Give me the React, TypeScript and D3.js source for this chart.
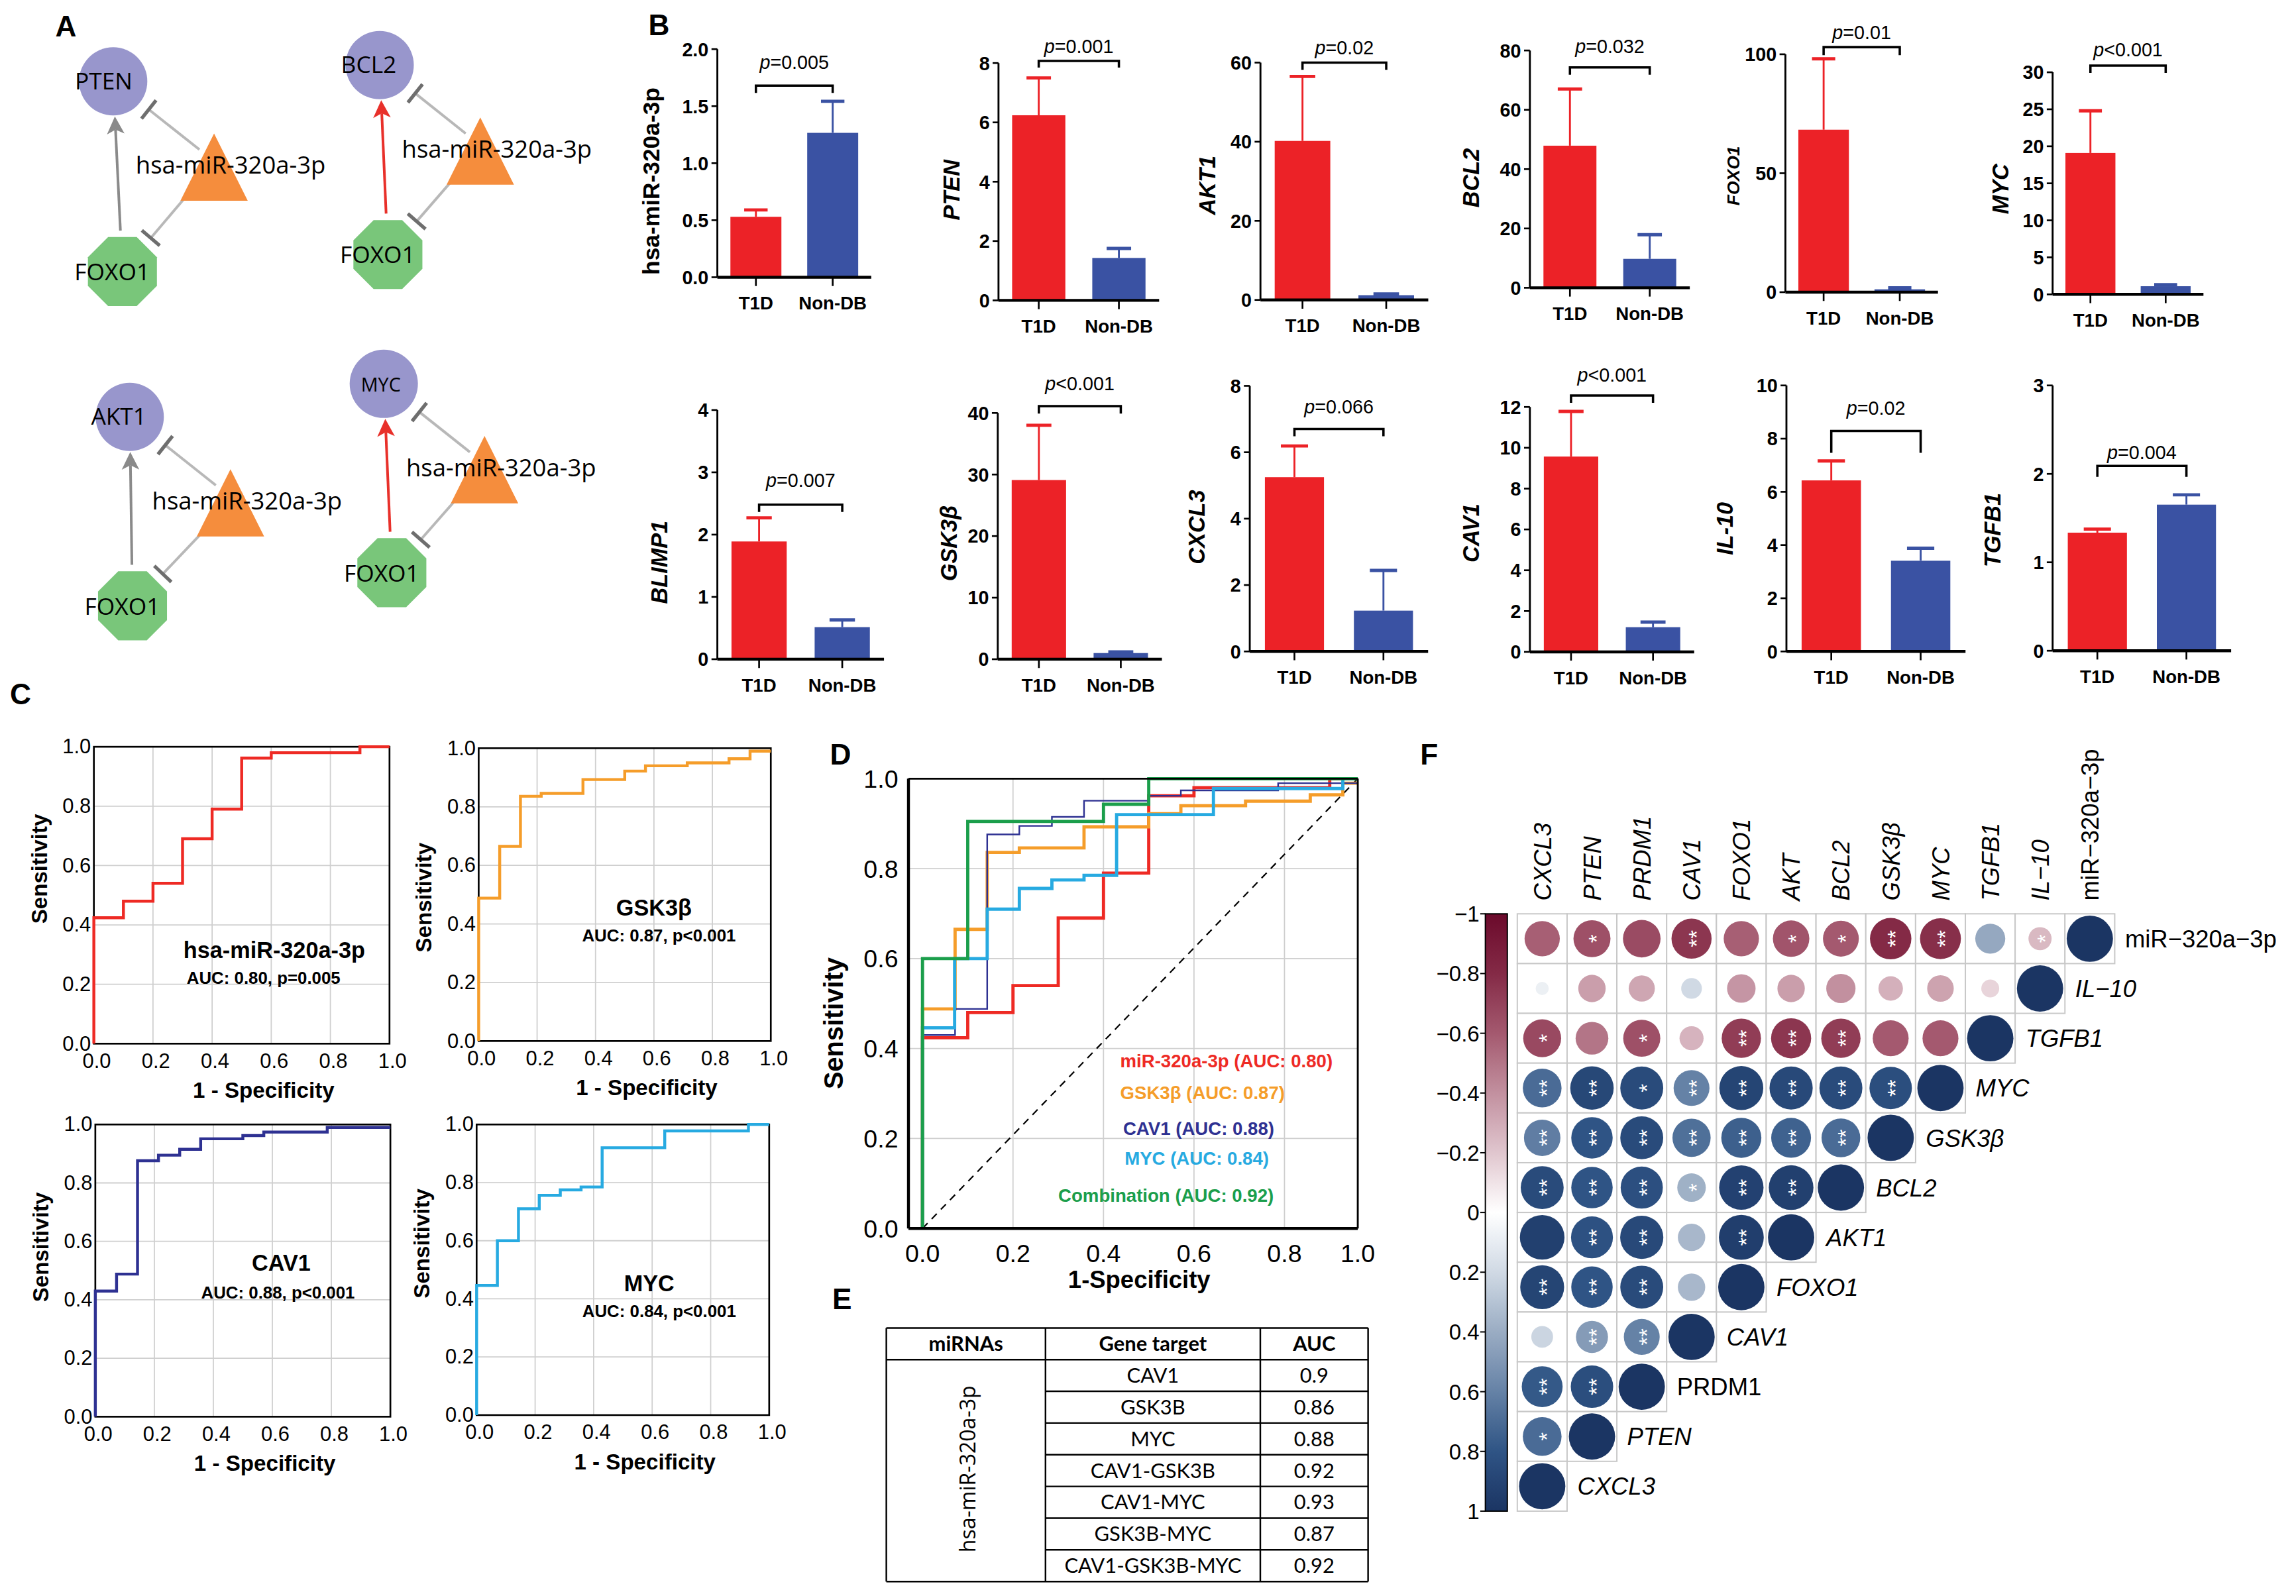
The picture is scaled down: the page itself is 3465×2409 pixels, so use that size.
import React, { useEffect, useRef } from 'react';
import * as d3 from 'd3';

// ---------- Panel A: regulatory networks ----------
const hubGenes = ['PTEN', 'BCL2', 'AKT1', 'MYC'];
const hubLinkColors = ['#8a8a8a', '#e8302a', '#8a8a8a', '#e8302a'];
const mirLabel = 'hsa-miR-320a-3p';
const tfLabel = 'FOXO1';

// ---------- Panel B: expression bars ----------
const groups = ['T1D', 'Non-DB'];
const barGenes = ['hsa-miR-320a-3p', 'PTEN', 'AKT1', 'BCL2', 'FOXO1', 'MYC', 'BLIMP1', 'GSK3β', 'CXCL3', 'CAV1', 'IL-10', 'TGFB1'];
const t1dMean = [0.53, 6.24, 40.2, 47.9, 68.3, 19.1, 1.89, 29.1, 5.25, 9.57, 6.43, 1.335];
const t1dSem = [0.06, 1.26, 16.3, 19.1, 29.8, 5.7, 0.38, 8.9, 0.94, 2.21, 0.73, 0.04];
const nonMean = [1.266, 1.43, 1.2, 9.75, 1.2, 1.1, 0.515, 1.0, 1.23, 1.21, 3.41, 1.652];
const nonSem = [0.277, 0.32, 0.3, 8.15, 0.6, 0.2, 0.115, 0.2, 1.21, 0.25, 0.47, 0.111];
const yMax = [2, 8, 60, 80, 100, 30, 4, 40, 8, 12, 10, 3];
const yStep = [0.5, 2, 20, 20, 50, 5, 1, 10, 2, 2, 2, 1];
const pValues = ['p=0.005', 'p=0.001', 'p=0.02', 'p=0.032', 'p=0.01', 'p<0.001', 'p=0.007', 'p<0.001', 'p=0.066', 'p<0.001', 'p=0.02', 'p=0.004'];
const bracketAt = [1.68, 8.07, 60, 74.3, 103, 30.9, 2.48, 41.1, 6.7, 12.56, 8.29, 2.09];

// ---------- Panel C / D: ROC curves ----------
const rocNames = ['hsa-miR-320a-3p', 'GSK3β', 'CAV1', 'MYC'];
const rocAuc = ['AUC: 0.80, p=0.005', 'AUC: 0.87, p<0.001', 'AUC: 0.88, p<0.001', 'AUC: 0.84, p<0.001'];
const mirFpr = [0, 0, 0.1, 0.2, 0.3, 0.4, 0.5, 0.6, 0.9, 1.0];
const mirTpr = [0, 0.424, 0.48, 0.54, 0.69, 0.79, 0.962, 0.98, 1.0, 1.0];
const gskFpr = [0, 0, 0.072, 0.143, 0.214, 0.357, 0.5, 0.571, 0.714, 0.857, 0.929, 1.0];
const gskTpr = [0, 0.488, 0.665, 0.836, 0.846, 0.893, 0.922, 0.94, 0.95, 0.964, 0.99, 0.99];
const cavFpr = [0, 0, 0.072, 0.143, 0.214, 0.286, 0.357, 0.5, 0.571, 0.786, 1.0];
const cavTpr = [0, 0.43, 0.488, 0.876, 0.895, 0.915, 0.951, 0.962, 0.974, 0.99, 0.99];
const mycFpr = [0, 0, 0.071, 0.143, 0.214, 0.286, 0.357, 0.429, 0.643, 0.929, 1.0];
const mycTpr = [0, 0.446, 0.6, 0.71, 0.756, 0.775, 0.785, 0.92, 0.978, 1.0, 1.0];
const comboFpr = [0, 0, 0.1, 0.4, 0.5, 1.0];
const comboTpr = [0, 0.6, 0.905, 0.943, 1.0, 1.0];
const rocColors = ['#ee2a24', '#f59d2a', '#2e3192', '#27aae1'];
const comboColor = '#1b9e4b';
const dLegend = ['miR-320a-3p (AUC: 0.80)', 'GSK3β (AUC: 0.87)', 'CAV1 (AUC: 0.88)', 'MYC (AUC: 0.84)', 'Combination (AUC: 0.92)'];

// ---------- Panel E: table ----------
const tableHeader = ['miRNAs', 'Gene target', 'AUC'];
const tableMirna = 'hsa-miR-320a-3p';
const tableTargets = ['CAV1', 'GSK3B', 'MYC', 'CAV1-GSK3B', 'CAV1-MYC', 'GSK3B-MYC', 'CAV1-GSK3B-MYC'];
const tableAuc = ['0.9', '0.86', '0.88', '0.92', '0.93', '0.87', '0.92'];

// ---------- Panel F: correlation matrix ----------
const corrRowNames = ['miR−320a−3p', 'IL−10', 'TGFB1', 'MYC', 'GSK3β', 'BCL2', 'AKT1', 'FOXO1', 'CAV1', 'PRDM1', 'PTEN', 'CXCL3'];
const corrColNames = ['CXCL3', 'PTEN', 'PRDM1', 'CAV1', 'FOXO1', 'AKT', 'BCL2', 'GSK3β', 'MYC', 'TGFB1', 'IL−10', 'miR−320a−3p'];
const corrRowItalic = [false, true, true, true, true, true, true, true, true, false, true, true];
const corrColItalic = [true, true, true, true, true, true, true, true, true, true, true, false];
const corrValues = [
  [-0.58, -0.64, -0.66, -0.75, -0.58, -0.62, -0.6, -0.8, -0.78, 0.42, -0.25, 1],
  [0.08, -0.35, -0.32, 0.2, -0.38, -0.35, -0.4, -0.28, -0.33, -0.15, 1],
  [-0.67, -0.5, -0.64, -0.27, -0.72, -0.75, -0.72, -0.6, -0.6, 1],
  [0.7, 0.88, 0.86, 0.6, 0.9, 0.87, 0.86, 0.84, 1],
  [0.62, 0.8, 0.86, 0.68, 0.75, 0.74, 0.7, 1],
  [0.86, 0.8, 0.83, 0.38, 0.92, 0.93, 1],
  [0.93, 0.82, 0.87, 0.35, 0.94, 1],
  [0.9, 0.8, 0.86, 0.35, 1],
  [0.22, 0.48, 0.6, 1],
  [0.78, 0.84, 1],
  [0.7, 1],
  [1],
];
const corrStars = [
  ['', '*', '', '**', '', '*', '*', '**', '**', '', '*', ''],
  ['', '', '', '', '', '', '', '', '', '', ''],
  ['*', '', '*', '', '**', '**', '**', '', '', ''],
  ['**', '**', '*', '**', '**', '**', '**', '**', ''],
  ['**', '**', '**', '**', '**', '**', '**', ''],
  ['**', '**', '**', '*', '**', '**', ''],
  ['', '**', '**', '', '**', ''],
  ['**', '**', '**', '', ''],
  ['', '**', '**', ''],
  ['**', '**', ''],
  ['*', ''],
  [''],
];
const colorbarTicks = [-1, -0.8, -0.6, -0.4, -0.2, 0, 0.2, 0.4, 0.6, 0.8, 1];

// ---------- layout (display units, viewBox 1568 x 1090) ----------
const ARIAL = "'Liberation Sans', Arial, Helvetica, sans-serif";
const SANS = "'Open Sans', 'Liberation Sans', sans-serif";
const TABLEFONT = "Lato, 'Open Sans', sans-serif";

const panelLetters = [
  { t: 'A', x: 45, y: 25 }, { t: 'B', x: 450, y: 24 }, { t: 'C', x: 14, y: 481 },
  { t: 'D', x: 574, y: 522 }, { t: 'E', x: 575, y: 894 }, { t: 'F', x: 976, y: 522 },
];

const netLayout = [
  { hub: [77.3, 55.5], tri: [146.2, 91.1], tf: [83.6, 185.4], hubDx: -6.5, hubFont: 16 },
  { hub: [259.3, 44.4], tri: [328.0, 80.1], tf: [264.9, 173.8], hubDx: -7.5, hubFont: 16 },
  { hub: [88.6, 284.7], tri: [157.4, 320.4], tf: [90.5, 413.7], hubDx: -7.5, hubFont: 16 },
  { hub: [262.1, 262.1], tri: [330.9, 297.7], tf: [267.6, 391.1], hubDx: -2, hubFont: 13 },
];

const bLayout = [
  { x: 489.9, y0: 189.3, yTop: 33.5, xEnd: 595, labX: 444.4, labY: 123.7, leg: 5, pGap: 11.5, fs: 16 },
  { x: 681.9, y0: 205.1, yTop: 43, xEnd: 791.6, labX: 649.8, labY: 129.7, leg: 4.5, pGap: 5.5, fs: 15.5 },
  { x: 860.8, y0: 204.8, yTop: 42.7, xEnd: 975.4, labX: 824.4, labY: 126.5, leg: 5, pGap: 5.5, fs: 15.5 },
  { x: 1044.8, y0: 196.5, yTop: 34.4, xEnd: 1154, labX: 1004.5, labY: 121.4, leg: 5, pGap: 10, fs: 15.5 },
  { x: 1219.3, y0: 199.5, yTop: 37, xEnd: 1323.5, labX: 1183.5, labY: 120, leg: 5.5, pGap: 5.5, fs: 12 },
  { x: 1401.8, y0: 201, yTop: 49.3, xEnd: 1504.8, labX: 1366, labY: 129, leg: 5, pGap: 6.5, fs: 15.5 },
  { x: 489.9, y0: 450.2, yTop: 280, xEnd: 603.7, labX: 449.9, labY: 384, leg: 5, pGap: 12, fs: 15.5 },
  { x: 681.4, y0: 450.2, yTop: 282, xEnd: 793.5, labX: 648, labY: 371, leg: 5, pGap: 11, fs: 15.5 },
  { x: 853.5, y0: 444.9, yTop: 263.5, xEnd: 975.3, labX: 817, labY: 360, leg: 5, pGap: 10.5, fs: 15.5 },
  { x: 1044.8, y0: 445.2, yTop: 277.9, xEnd: 1157, labX: 1004.5, labY: 364, leg: 5, pGap: 9.5, fs: 15.5 },
  { x: 1220, y0: 444.9, yTop: 263.2, xEnd: 1342.3, labX: 1177.9, labY: 361, leg: 15, pGap: 11, fs: 15.5 },
  { x: 1401.8, y0: 444.4, yTop: 263.2, xEnd: 1523.7, labX: 1360.5, labY: 362, leg: 7.5, pGap: 4.5, fs: 15.5 },
];
const barColors = ['#ec2227', '#3a52a3'];

const cLayout = [
  { x0: 64.1, x1: 266, yT: 510, yB: 712.8, labDy: -18, title: [0.61, 0.315], auc: [0.574, 0.222] },
  { x0: 326.9, x1: 526.4, yT: 511, yB: 711, labDy: 2, title: [0.6, 0.457], auc: [0.617, 0.362] },
  { x0: 65.1, x1: 266.6, yT: 768, yB: 967.6, labDy: -16, title: [0.63, 0.527], auc: [0.619, 0.426] },
  { x0: 325.5, x1: 525.3, yT: 768, yB: 966.5, labDy: -18, title: [0.59, 0.455], auc: [0.624, 0.358] },
];

const dBox = { x0: 630, unit: 309, yT: 531.8, yB: 839, edge: [-0.031, 0.962] };
const dXTicks = [0, 0.2, 0.4, 0.6, 0.8, 0.962];
const dLegendPos = [[765, 728.8], [765, 750.8], [767, 775], [768, 795.3], [722.7, 820.7]];

const tableCols = [605.3, 714, 860.7, 934.3];
const tableTop = 907;
const tableHeadBottom = 928.6;
const tableBottom = 1080.2;

const fLeft = 1036.2;
const fTop = 624.1;
const fCell = 34;
const fBar = { x: 1014.4, w: 15 };

const corrColor = d3.scaleLinear<string>()
  .domain([-1, -0.8, -0.6, -0.4, -0.2, 0, 0.2, 0.4, 0.6, 0.8, 1])
  .range(['#6b0a2b', '#842a46', '#a4596f', '#c2909f', '#e0c6ce', '#ffffff', '#d0d9e4', '#9aacc3', '#6582a6', '#2f5485', '#1b3563']);

type Pt = [number, number];
const unitVec = (a: Pt, b: Pt): Pt => {
  const dx = b[0] - a[0], dy = b[1] - a[1];
  const l = Math.hypot(dx, dy);
  return [dx / l, dy / l];
};
const toward = (from: Pt, to: Pt, d: number): Pt => {
  const u = unitVec(from, to);
  return [from[0] + u[0] * d, from[1] + u[1] * d];
};

const App: React.FC = () => {
  const svgRef = useRef<SVGSVGElement>(null);

  useEffect(() => {
    const svg = d3.select(svgRef.current);
    svg.selectAll('*').remove();

    svg.append('rect').attr('width', 1568).attr('height', 1090).attr('fill', '#fff');

    // Panel letters
    panelLetters.forEach(p => {
      svg.append('text')
        .attr('x', p.x).attr('y', p.y)
        .attr('text-anchor', 'middle')
        .style('font-family', ARIAL).style('font-weight', 'bold').style('font-size', '20px')
        .text(p.t);
    });

    // ================= Panel A =================
    const gA = svg.append('g');
    netLayout.forEach((L, i) => {
      const hub = L.hub as Pt, tri = L.tri as Pt, tf = L.tf as Pt;
      const triW = 46, triH = 46;

      const inhibit = (s: Pt, e: Pt) => {
        gA.append('line')
          .attr('x1', s[0]).attr('y1', s[1]).attr('x2', e[0]).attr('y2', e[1])
          .attr('stroke', '#b8b8b8').attr('stroke-width', 1.8);
        const u = unitVec(s, e);
        const p: Pt = [-u[1], u[0]];
        gA.append('line')
          .attr('x1', e[0] + p[0] * 8).attr('y1', e[1] + p[1] * 8)
          .attr('x2', e[0] - p[0] * 8).attr('y2', e[1] - p[1] * 8)
          .attr('stroke', '#6e6e6e').attr('stroke-width', 2.4);
      };

      const s1: Pt = [tri[0] - 10, tri[1] + 11];
      inhibit(s1, toward(hub, s1, 31));
      const s2: Pt = [tri[0] - triW / 2 + 3, tri[1] + triH - 2];
      inhibit(s2, toward(tf, s2, 30));

      // activation arrow FOXO1 -> hub
      const aS = toward(tf, hub, 28);
      const aE = toward(hub, tf, 24);
      const u = unitVec(aS, aE);
      const p: Pt = [-u[1], u[0]];
      const base: Pt = [aE[0] - u[0] * 12, aE[1] - u[1] * 12];
      gA.append('line')
        .attr('x1', aS[0]).attr('y1', aS[1]).attr('x2', base[0] + u[0] * 3).attr('y2', base[1] + u[1] * 3)
        .attr('stroke', hubLinkColors[i]).attr('stroke-width', 1.8);
      gA.append('path')
        .attr('d', `M${aE[0]},${aE[1]} L${base[0] + p[0] * 6},${base[1] + p[1] * 6} L${aE[0] - u[0] * 9},${aE[1] - u[1] * 9} L${base[0] - p[0] * 6},${base[1] - p[1] * 6} Z`)
        .attr('fill', hubLinkColors[i]);

      // nodes
      gA.append('circle').attr('cx', hub[0]).attr('cy', hub[1]).attr('r', 23.3).attr('fill', '#9896cc');
      gA.append('path')
        .attr('d', `M${tri[0]},${tri[1]} L${tri[0] - triW / 2},${tri[1] + triH} L${tri[0] + triW / 2},${tri[1] + triH} Z`)
        .attr('fill', '#f58d3d');
      const oct = d3.range(8).map(k => {
        const a = (Math.PI / 8) + k * Math.PI / 4;
        return [tf[0] + 25.5 * Math.cos(a), tf[1] + 25.5 * Math.sin(a)];
      });
      gA.append('path').attr('d', 'M' + oct.map(q => q.join(',')).join('L') + 'Z').attr('fill', '#79c67a');

      // labels
      gA.append('text')
        .attr('x', hub[0] + L.hubDx).attr('y', hub[1] + 5.5)
        .attr('text-anchor', 'middle')
        .style('font-family', SANS).style('font-size', `${L.hubFont}px`)
        .text(hubGenes[i]);
      gA.append('text')
        .attr('x', tf[0] - 7).attr('y', tf[1] + 6)
        .attr('text-anchor', 'middle')
        .style('font-family', SANS).style('font-size', '16px')
        .text(tfLabel);
      gA.append('text')
        .attr('x', tri[0] - 53.5).attr('y', tri[1] + 27.5)
        .style('font-family', SANS).style('font-size', '16.5px')
        .text(mirLabel);
    });

    // ================= Panel B =================
    const gB = svg.append('g');
    barGenes.forEach((gene, i) => {
      const L = bLayout[i];
      const g = gB.append('g');
      const x = d3.scaleBand<string>().domain(groups).range([L.x, L.xEnd]).paddingInner(0.336).paddingOuter(0.17);
      const y = d3.scaleLinear().domain([0, yMax[i]]).range([L.y0, L.yTop]);
      const means = [t1dMean[i], nonMean[i]];
      const sems = [t1dSem[i], nonSem[i]];
      const bw = x.bandwidth();

      groups.forEach((grp, k) => {
        const bx = x(grp) as number;
        const cx = bx + bw / 2;
        const c = barColors[k];
        g.append('line')
          .attr('x1', cx).attr('x2', cx).attr('y1', y(means[k])).attr('y2', y(means[k] + sems[k]))
          .attr('stroke', c).attr('stroke-width', 1.3);
        g.append('line')
          .attr('x1', cx - bw * 0.23).attr('x2', cx + bw * 0.23)
          .attr('y1', y(means[k] + sems[k])).attr('y2', y(means[k] + sems[k]))
          .attr('stroke', c).attr('stroke-width', 2.2);
        g.append('rect')
          .attr('x', bx).attr('y', y(means[k]))
          .attr('width', bw).attr('height', L.y0 - y(means[k]))
          .attr('fill', c);
      });

      // y axis
      g.append('line').attr('x1', L.x).attr('x2', L.x).attr('y1', L.y0).attr('y2', L.yTop)
        .attr('stroke', '#000').attr('stroke-width', 1.3);
      const ticks = d3.range(0, yMax[i] + yStep[i] / 2, yStep[i]);
      const fmt = yStep[i] < 1 ? d3.format('.1f') : d3.format('d');
      ticks.forEach(t => {
        g.append('line').attr('x1', L.x - 4).attr('x2', L.x).attr('y1', y(t)).attr('y2', y(t))
          .attr('stroke', '#000').attr('stroke-width', 1.2);
        g.append('text')
          .attr('x', L.x - 6).attr('y', y(t)).attr('dy', '0.36em')
          .attr('text-anchor', 'end')
          .style('font-family', ARIAL).style('font-weight', 'bold').style('font-size', '13px')
          .text(fmt(t));
      });

      // x axis
      g.append('line').attr('x1', L.x).attr('x2', L.xEnd).attr('y1', L.y0).attr('y2', L.y0)
        .attr('stroke', '#000').attr('stroke-width', 2);
      groups.forEach(grp => {
        const cx = (x(grp) as number) + bw / 2;
        g.append('line').attr('x1', cx).attr('x2', cx).attr('y1', L.y0).attr('y2', L.y0 + 6)
          .attr('stroke', '#000').attr('stroke-width', 1.2);
        g.append('text')
          .attr('x', cx).attr('y', L.y0 + 22)
          .attr('text-anchor', 'middle')
          .style('font-family', ARIAL).style('font-weight', 'bold').style('font-size', '12.5px')
          .text(grp);
      });

      // y label
      g.append('text')
        .attr('transform', `translate(${L.labX + L.fs * 0.36},${L.labY}) rotate(-90)`)
        .attr('text-anchor', 'middle')
        .style('font-family', ARIAL).style('font-weight', 'bold')
        .style('font-style', i === 0 ? 'normal' : 'italic')
        .style('font-size', `${L.fs}px`)
        .text(gene);

      // significance bracket
      const c1 = (x(groups[0]) as number) + bw / 2;
      const c2 = (x(groups[1]) as number) + bw / 2;
      const by = y(bracketAt[i]);
      g.append('path')
        .attr('d', `M${c1},${by + L.leg} L${c1},${by} L${c2},${by} L${c2},${by + L.leg}`)
        .attr('fill', 'none').attr('stroke', '#000').attr('stroke-width', 1.6);
      const pt = g.append('text')
        .attr('x', (c1 + c2) / 2).attr('y', by - L.pGap)
        .attr('text-anchor', 'middle')
        .style('font-family', ARIAL).style('font-size', '13px');
      pt.append('tspan').style('font-style', 'italic').text(pValues[i].slice(0, 1));
      pt.append('tspan').text(pValues[i].slice(1));
    });

    // ================= Panel C =================
    const gC = svg.append('g');
    const rocSets: [number[], number[]][] = [[mirFpr, mirTpr], [gskFpr, gskTpr], [cavFpr, cavTpr], [mycFpr, mycTpr]];
    cLayout.forEach((L, i) => {
      const g = gC.append('g');
      const x = d3.scaleLinear().domain([0, 1]).range([L.x0, L.x1]);
      const y = d3.scaleLinear().domain([0, 1]).range([L.yB, L.yT]);
      const ticks = d3.range(0, 1.01, 0.2);
      ticks.slice(1, -1).forEach(t => {
        g.append('line').attr('x1', x(t)).attr('x2', x(t)).attr('y1', L.yT).attr('y2', L.yB)
          .attr('stroke', '#cfcfcf').attr('stroke-width', 0.8);
        g.append('line').attr('x1', L.x0).attr('x2', L.x1).attr('y1', y(t)).attr('y2', y(t))
          .attr('stroke', '#cfcfcf').attr('stroke-width', 0.8);
      });
      g.append('rect').attr('x', L.x0).attr('y', L.yT).attr('width', L.x1 - L.x0).attr('height', L.yB - L.yT)
        .attr('fill', 'none').attr('stroke', '#000').attr('stroke-width', 1.2);
      const pts: Pt[] = rocSets[i][0].map((f, k) => [f, rocSets[i][1][k]]);
      g.append('path')
        .attr('d', d3.line<Pt>().x(d => x(d[0])).y(d => y(d[1])).curve(d3.curveStepAfter)(pts) as string)
        .attr('fill', 'none').attr('stroke', rocColors[i]).attr('stroke-width', 2);

      ticks.forEach(t => {
        g.append('text')
          .attr('x', x(t) + 2).attr('y', L.yB + 16.5)
          .attr('text-anchor', 'middle')
          .style('font-family', ARIAL).style('font-size', '14px')
          .text(d3.format('.1f')(t));
        g.append('text')
          .attr('x', L.x0 - 2).attr('y', y(t)).attr('dy', '0.33em')
          .attr('text-anchor', 'end')
          .style('font-family', ARIAL).style('font-size', '14px')
          .text(d3.format('.1f')(t));
      });
      g.append('text')
        .attr('transform', `translate(${L.x0 - 37.5 + 5.4},${(L.yT + L.yB) / 2 + L.labDy}) rotate(-90)`)
        .attr('text-anchor', 'middle')
        .style('font-family', ARIAL).style('font-weight', 'bold').style('font-size', '15px')
        .text('Sensitivity');
      g.append('text')
        .attr('x', (L.x0 + L.x1) / 2 + 15).attr('y', L.yB + 37)
        .attr('text-anchor', 'middle')
        .style('font-family', ARIAL).style('font-weight', 'bold').style('font-size', '15px')
        .text('1 - Specificity');
      g.append('text')
        .attr('x', x(L.title[0])).attr('y', y(L.title[1])).attr('dy', '0.36em')
        .attr('text-anchor', 'middle')
        .style('font-family', ARIAL).style('font-weight', 'bold').style('font-size', '15.5px')
        .text(rocNames[i]);
      g.append('text')
        .attr('x', x(L.auc[0])).attr('y', y(L.auc[1])).attr('dy', '0.36em')
        .attr('text-anchor', 'middle')
        .style('font-family', ARIAL).style('font-weight', 'bold').style('font-size', '11.7px')
        .text(rocAuc[i]);
    });

    // ================= Panel D =================
    const gD = svg.append('g');
    const dx = d3.scaleLinear().domain([0, 1]).range([dBox.x0, dBox.x0 + dBox.unit]);
    const dy = d3.scaleLinear().domain([0, 1]).range([dBox.yB, dBox.yT]);
    const dLeft = dx(dBox.edge[0]);
    const dRight = dx(dBox.edge[1]);
    [0.2, 0.4, 0.6, 0.8].forEach(t => {
      gD.append('line').attr('x1', dx(t)).attr('x2', dx(t)).attr('y1', dBox.yT).attr('y2', dBox.yB)
        .attr('stroke', '#cfcfcf').attr('stroke-width', 0.8);
      gD.append('line').attr('x1', dLeft).attr('x2', dRight).attr('y1', dy(t)).attr('y2', dy(t))
        .attr('stroke', '#cfcfcf').attr('stroke-width', 0.8);
    });
    gD.append('line').attr('x1', dx(0)).attr('y1', dy(0)).attr('x2', dRight).attr('y2', dy(1))
      .attr('stroke', '#000').attr('stroke-width', 1).attr('stroke-dasharray', '5,4');
    svg.append('defs').append('clipPath').attr('id', 'dclip')
      .append('rect').attr('x', dLeft).attr('y', dBox.yT - 3).attr('width', dRight - dLeft).attr('height', dBox.yB - dBox.yT + 6);
    const gDc = gD.append('g').attr('clip-path', 'url(#dclip)');
    const dLine = d3.line<Pt>().x(d => dx(d[0])).y(d => dy(d[1])).curve(d3.curveStepAfter);
    rocSets.forEach((set, i) => {
      const pts: Pt[] = set[0].map((f, k) => [f, set[1][k]]);
      gDc.append('path').attr('d', dLine(pts) as string)
        .attr('fill', 'none').attr('stroke', rocColors[i]).attr('stroke-width', i === 2 ? 1.1 : 2.2);
    });
    const comboPts: Pt[] = comboFpr.map((f, k) => [f, comboTpr[k]]);
    gDc.append('path').attr('d', dLine(comboPts) as string)
      .attr('fill', 'none').attr('stroke', comboColor).attr('stroke-width', 2.2);
    // box
    gD.append('line').attr('x1', dLeft).attr('x2', dRight).attr('y1', dBox.yT).attr('y2', dBox.yT).attr('stroke', '#000').attr('stroke-width', 1.3);
    gD.append('line').attr('x1', dRight).attr('x2', dRight).attr('y1', dBox.yT).attr('y2', dBox.yB).attr('stroke', '#000').attr('stroke-width', 1.3);
    gD.append('line').attr('x1', dLeft).attr('x2', dLeft).attr('y1', dBox.yT).attr('y2', dBox.yB).attr('stroke', '#000').attr('stroke-width', 2);
    gD.append('line').attr('x1', dLeft).attr('x2', dRight).attr('y1', dBox.yB).attr('y2', dBox.yB).attr('stroke', '#000').attr('stroke-width', 2);
    dXTicks.forEach((t, k) => {
      gD.append('text').attr('x', dx(t)).attr('y', dBox.yB + 23)
        .attr('text-anchor', 'middle')
        .style('font-family', ARIAL).style('font-size', '17px')
        .text(d3.format('.1f')(k * 0.2));
    });
    [0, 0.2, 0.4, 0.6, 0.8, 1].forEach(t => {
      gD.append('text').attr('x', dLeft - 7).attr('y', dy(t)).attr('dy', '0.36em')
        .attr('text-anchor', 'end')
        .style('font-family', ARIAL).style('font-size', '17px')
        .text(d3.format('.1f')(t));
    });
    gD.append('text')
      .attr('transform', `translate(${569 + 6.5},${698.9}) rotate(-90)`)
      .attr('text-anchor', 'middle')
      .style('font-family', ARIAL).style('font-weight', 'bold').style('font-size', '18px')
      .text('Sensitivity');
    gD.append('text').attr('x', 778).attr('y', 879.5)
      .attr('text-anchor', 'middle')
      .style('font-family', ARIAL).style('font-weight', 'bold').style('font-size', '16.5px')
      .text('1-Specificity');
    const dLegendColors = [...rocColors, comboColor];
    dLegend.forEach((t, k) => {
      gD.append('text').attr('x', dLegendPos[k][0]).attr('y', dLegendPos[k][1])
        .style('font-family', ARIAL).style('font-weight', 'bold').style('font-size', '12.5px')
        .attr('fill', dLegendColors[k])
        .text(t);
    });

    // ================= Panel E =================
    const gE = svg.append('g');
    const rowBand = d3.scaleBand<string>().domain(tableTargets).range([tableHeadBottom, tableBottom]);
    const colMid = (c: number) => (tableCols[c] + tableCols[c + 1]) / 2;
    const tl = (x1: number, y1: number, x2: number, y2: number) =>
      gE.append('line').attr('x1', x1).attr('y1', y1).attr('x2', x2).attr('y2', y2)
        .attr('stroke', '#000').attr('stroke-width', 1.1);
    tl(tableCols[0], tableTop, tableCols[3], tableTop);
    tl(tableCols[0], tableHeadBottom, tableCols[3], tableHeadBottom);
    tl(tableCols[0], tableBottom, tableCols[3], tableBottom);
    tableCols.forEach(cx => tl(cx, tableTop, cx, tableBottom));
    tableTargets.slice(1).forEach(t => {
      const yy = rowBand(t) as number;
      tl(tableCols[1], yy, tableCols[3], yy);
    });
    tableHeader.forEach((h, c) => {
      gE.append('text').attr('x', colMid(c)).attr('y', (tableTop + tableHeadBottom) / 2).attr('dy', '0.35em')
        .attr('text-anchor', 'middle')
        .style('font-family', TABLEFONT).style('font-weight', 'bold').style('font-size', '14px')
        .text(h);
    });
    tableTargets.forEach((t, r) => {
      const yy = (rowBand(t) as number) + rowBand.bandwidth() / 2;
      gE.append('text').attr('x', colMid(1)).attr('y', yy).attr('dy', '0.35em')
        .attr('text-anchor', 'middle')
        .style('font-family', TABLEFONT).style('font-size', '14px')
        .text(t);
      gE.append('text').attr('x', colMid(2)).attr('y', yy).attr('dy', '0.35em')
        .attr('text-anchor', 'middle')
        .style('font-family', TABLEFONT).style('font-size', '14px')
        .text(tableAuc[r]);
    });
    gE.append('text')
      .attr('transform', `translate(${661.3 + 5},${1003.3}) rotate(-90)`)
      .attr('text-anchor', 'middle')
      .style('font-family', SANS).style('font-size', '14.5px')
      .text(tableMirna);

    // ================= Panel F =================
    const gF = svg.append('g');
    const grad = svg.select('defs').append('linearGradient')
      .attr('id', 'corrgrad').attr('x1', 0).attr('y1', 0).attr('x2', 0).attr('y2', 1);
    d3.range(0, 1.0001, 0.05).forEach(t => {
      grad.append('stop').attr('offset', t).attr('stop-color', corrColor(-1 + 2 * t));
    });
    const barY = d3.scaleLinear().domain([-1, 1]).range([fTop, fTop + 12 * fCell]);
    gF.append('rect').attr('x', fBar.x).attr('y', barY(-1)).attr('width', fBar.w).attr('height', barY(1) - barY(-1))
      .attr('fill', 'url(#corrgrad)').attr('stroke', '#000').attr('stroke-width', 0.9);
    colorbarTicks.forEach(t => {
      gF.append('line').attr('x1', fBar.x - 3.5).attr('x2', fBar.x).attr('y1', barY(t)).attr('y2', barY(t))
        .attr('stroke', '#000').attr('stroke-width', 0.9);
      gF.append('text').attr('x', fBar.x - 4).attr('y', barY(t)).attr('dy', '0.36em')
        .attr('text-anchor', 'end')
        .style('font-family', ARIAL).style('font-size', '15px')
        .text(t === 0 ? '0' : (t < 0 ? '−' : '') + d3.format('')(Math.abs(t)));
    });

    corrValues.forEach((row, i) => {
      row.forEach((v, j) => {
        const cx0 = fLeft + j * fCell;
        const cy0 = fTop + i * fCell;
        gF.append('rect').attr('x', cx0).attr('y', cy0).attr('width', fCell).attr('height', fCell)
          .attr('fill', '#fff').attr('stroke', '#c8c8c8').attr('stroke-width', 0.9);
      });
    });
    const starSize = 15;
    corrValues.forEach((row, i) => {
      row.forEach((v, j) => {
        const cx = fLeft + (j + 0.5) * fCell;
        const cy = fTop + (i + 0.5) * fCell;
        gF.append('circle').attr('cx', cx).attr('cy', cy)
          .attr('r', 0.465 * fCell * Math.sqrt(Math.abs(v)))
          .attr('fill', corrColor(v));
        const s = corrStars[i][j];
        if (s) {
          // significance marks run vertically, as in the corrplot output
          gF.append('text')
            .attr('transform', `translate(${cx + starSize * 0.57},${cy}) rotate(-90)`)
            .attr('text-anchor', 'middle')
            .attr('fill', '#fff')
            .style('font-family', ARIAL).style('font-size', `${starSize}px`)
            .text(s);
        }
      });
      gF.append('text')
        .attr('x', fLeft + (12 - i) * fCell + 7).attr('y', fTop + (i + 0.5) * fCell).attr('dy', '0.36em')
        .style('font-family', ARIAL).style('font-size', '16.5px')
        .style('font-style', corrRowItalic[i] ? 'italic' : 'normal')
        .text(corrRowNames[i]);
    });
    corrColNames.forEach((c, j) => {
      gF.append('text')
        .attr('transform', `translate(${fLeft + (j + 0.5) * fCell + 6},${fTop - 9}) rotate(-90)`)
        .style('font-family', ARIAL).style('font-size', '16.5px')
        .style('font-style', corrColItalic[j] ? 'italic' : 'normal')
        .text(c);
    });
  }, []);

  return (
    <svg
      ref={svgRef}
      width={3465}
      height={2409}
      viewBox="0 0 1568 1090"
      style={{ position: 'absolute', left: 0, top: 0, background: '#fff' }}
    />
  );
};

export default App;
